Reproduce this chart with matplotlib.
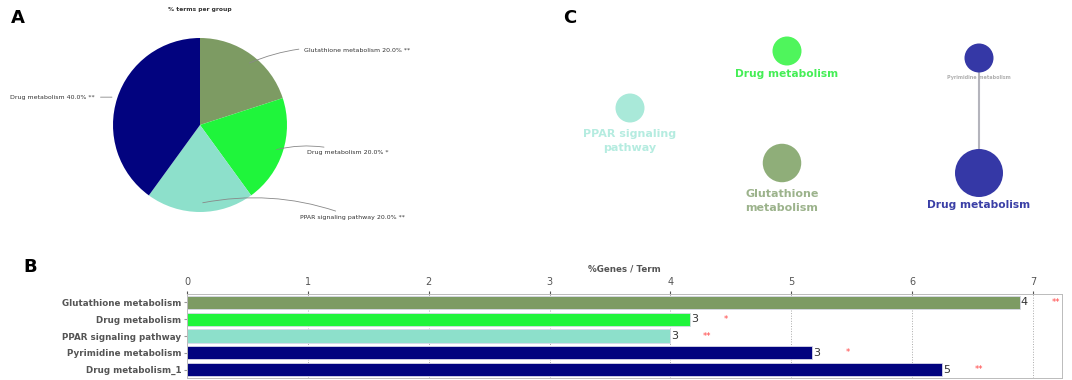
import matplotlib
matplotlib.use("Agg")
from matplotlib import pyplot as plt

# ---- data ----
pie_labels = ["Glutathione metabolism 20.0% **", "Drug metabolism 20.0% *",
              "PPAR signaling pathway 20.0% **", "Drug metabolism 40.0% **"]
pie_values = [20.0, 20.0, 20.0, 40.0]
pie_colors = ["#7d9b63", "#1ff53b", "#8de0cb", "#02037f"]

term_labels = ["Glutathione metabolism", "Drug metabolism", "PPAR signaling pathway",
               "Pyrimidine metabolism", "Drug metabolism_1"]
pct_genes = [6.89, 4.16, 4.0, 5.17, 6.25]
gene_counts = [4, 3, 3, 3, 5]
stars = ["**", "*", "**", "*", "**"]
bar_colors = ["#7d9b63", "#1ff53b", "#8de0cb", "#02037f", "#02037f"]

# network panel (layout positions in panel units)
node_names = ["Drug metabolism", "Pyrimidine metabolism", "PPAR signaling\npathway",
              "Glutathione\nmetabolism", "Drug metabolism"]
node_x = [787, 979, 630, 782, 979]
node_y = [51, 58, 108, 163, 173]
node_genes = [3, 3, 3, 4, 5]
node_colors = ["#4ff55c", "#3538a6", "#a9e9d9", "#8fae79", "#3538a6"]
node_text_colors = ["#44ee55", "#b0b0b0", "#b5ece0", "#9cb38c", "#3a3fa6"]
edges = [(1, 4)]

fig = plt.figure(figsize=(10.72, 3.8), dpi=100)
W, H = 1072, 380

# ---- A: pie ----
cx, cy, r = 200, 125, 87
ax_pie = fig.add_axes([(cx - r) / W, 1 - (cy + r) / H, 2 * r / W, 2 * r / H])
wedges, _ = ax_pie.pie(pie_values, colors=pie_colors, startangle=90, counterclock=False,
                       radius=1)
ax_pie.set_xlim(-1, 1)
ax_pie.set_ylim(-1, 1)
ax_pie.axis("off")

label_pos = [(1.20, 0.86), (1.23, -0.32), (1.15, -1.06), (-2.18, 0.32)]
anchor_pts = [(0.54, 0.70), (0.85, -0.29), (0.0, -0.90), (-0.98, 0.32)]
for i, w in enumerate(wedges):
    ax_pie.annotate(pie_labels[i], xy=anchor_pts[i], xytext=label_pos[i],
                    fontsize=4.5, color="#333333", ha="left", va="center",
                    arrowprops=dict(arrowstyle="-", color="#888888", lw=0.6,
                                    connectionstyle="arc3,rad=0.15" if i != 3 else "arc3,rad=0"))
fig.text(cx / W, 1 - 10 / H, "% terms per group", fontsize=4.3, fontweight="bold",
         ha="center", va="center", color="#333333")

# ---- B: bar chart ----
left, right, top, bottom = 187, 1062, 294, 378
ax_bar = fig.add_axes([left / W, 1 - bottom / H, (right - left) / W, (bottom - top) / H])
ypos = list(range(len(term_labels)))
ax_bar.barh(ypos, pct_genes, height=0.78, color=bar_colors, edgecolor="#d8d8e8",
            linewidth=0.6, zorder=2)
for i in ypos:
    ax_bar.text(pct_genes[i] + 0.01, i, str(gene_counts[i]), fontsize=8, va="center",
                ha="left", color="#333333")
    ax_bar.text(pct_genes[i] + 0.3, i, stars[i], fontsize=6, va="center", ha="center",
                color="#ff4444")
ax_bar.set_xlim(0, 7.24)
ax_bar.set_ylim(len(term_labels) - 0.5, -0.5)
ax_bar.set_yticks(ypos)
ax_bar.set_yticklabels(term_labels, fontsize=6.3, fontweight="bold", color="#555555")
ax_bar.set_xticks(range(8))
ax_bar.xaxis.tick_top()
ax_bar.xaxis.set_label_position("top")
ax_bar.tick_params(axis="x", labelsize=7, colors="#555555", length=2, pad=3)
ax_bar.tick_params(axis="y", length=2, colors="#999999", labelcolor="#555555", pad=2)
ax_bar.set_xlabel("%Genes / Term", fontsize=6.3, fontweight="bold", color="#555555",
                  labelpad=4)
ax_bar.grid(axis="x", linestyle=":", color="#aaaaaa", lw=0.7, zorder=0)
for s in ax_bar.spines.values():
    s.set_color("#bbbbbb")
    s.set_linewidth(0.7)

# ---- C: network ----
ax_net = fig.add_axes([0, 0, 1, 1], facecolor="none")
ax_net.set_xlim(0, W)
ax_net.set_ylim(H, 0)
ax_net.axis("off")
for a, b in edges:
    ax_net.plot([node_x[a], node_x[b]], [node_y[a], node_y[b]], color="#b4b4bc", lw=1.5,
                zorder=1)
# node diameter grows with gene count (pixels -> points)
sizes = [((29 + (g - 3) * 9.5) * 0.72) ** 2 for g in node_genes]
ax_net.scatter(node_x, node_y, s=sizes, c=node_colors, linewidths=0, zorder=2)
label_dy = [23, 20, 33, 38, 32]
label_fs = [7.7, 3.5, 8, 8, 7.7]
for i in range(len(node_x)):
    ax_net.text(node_x[i], node_y[i] + label_dy[i], node_names[i], ha="center",
                va="center", fontsize=label_fs[i], fontweight="bold",
                color=node_text_colors[i], linespacing=1.5)

# panel letters
fig.text(18 / W, 1 - 18 / H, "A", fontsize=13, fontweight="bold", va="center", ha="center")
fig.text(30 / W, 1 - 267 / H, "B", fontsize=13, fontweight="bold", va="center", ha="center")
fig.text(570 / W, 1 - 18 / H, "C", fontsize=13, fontweight="bold", va="center", ha="center")

fig.savefig("out.png", dpi=100)
